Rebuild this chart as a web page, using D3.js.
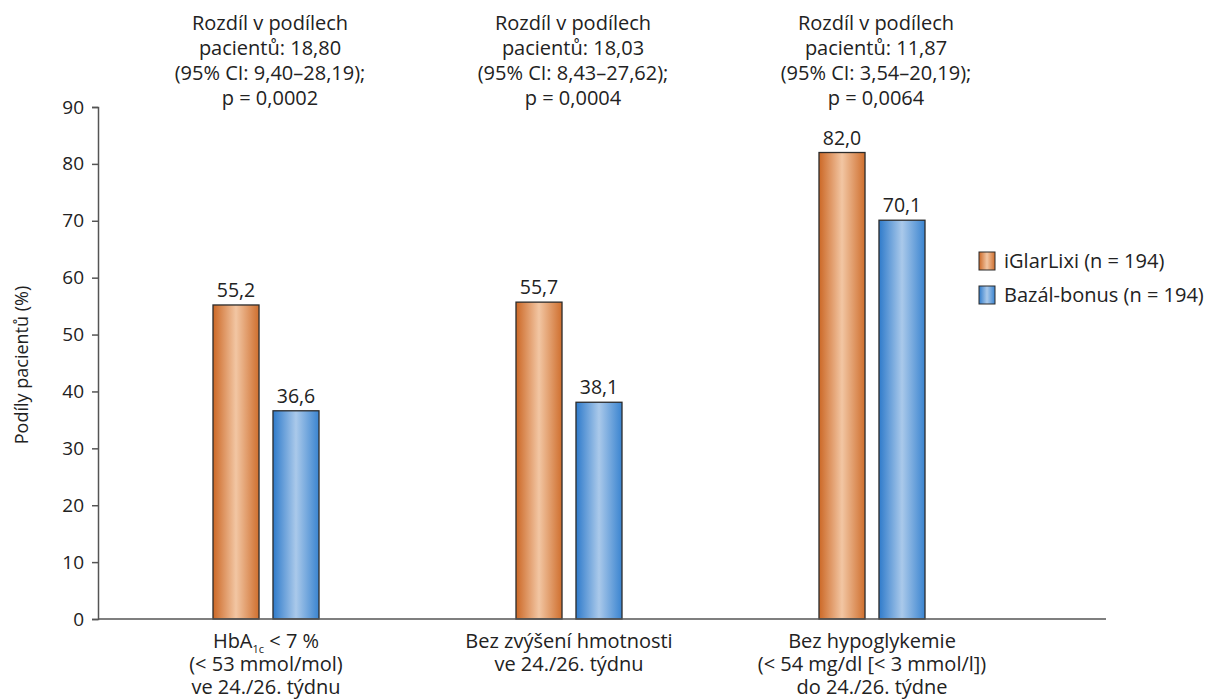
<!DOCTYPE html>
<html><head><meta charset="utf-8">
<script src="https://cdn.jsdelivr.net/npm/d3@7"></script>
<style>body{margin:0;background:#fff}text{font-family:"Open Sans",sans-serif;fill:#222}</style>
</head><body><svg id="c" width="1214" height="699"></svg>
<script>
const categories = ["g1","g2","g3"];
const seriesNames = ["iGlarLixi (n = 194)","Bazál-bonus (n = 194)"];
const iglarlixi = [55.2, 55.7, 82.0];
const bazalBonus = [36.6, 38.1, 70.1];
const valueLabels = [["55,2","36,6"],["55,7","38,1"],["82,0","70,1"]];
const yTicks = [0,10,20,30,40,50,60,70,80,90];
const annotations = [
 ["Rozdíl v podílech","pacientů: 18,80","(95% CI: 9,40–28,19);","p = 0,0002"],
 ["Rozdíl v podílech","pacientů: 18,03","(95% CI: 8,43–27,62);","p = 0,0004"],
 ["Rozdíl v podílech","pacientů: 11,87","(95% CI: 3,54–20,19);","p = 0,0064"]
];
const catLabels = [
 [null,"(< 53 mmol/mol)","ve 24./26. týdnu"],
 ["Bez zvýšení hmotnosti","ve 24./26. týdnu"],
 ["Bez hypoglykemie","(< 54 mg/dl [< 3 mmol/l])","do 24./26. týdne"]
];
const yTitle = "Podíly pacientů (%)";

const svg = d3.select("#c");
const x0 = 98, xEnd = 1106, yBase = 619, yTop = 107;
const y = d3.scaleLinear().domain([0,90]).range([yBase,yTop]);
const x = d3.scaleBand().domain(categories).range([114.5,1023.5]).paddingInner(0).paddingOuter(0);
const xs = d3.scaleBand().domain([0,1]).range([-53,53]).paddingInner(0.233).paddingOuter(0);

const defs = svg.append("defs");
function grad(id, edge, mid){
  const g = defs.append("linearGradient").attr("id",id).attr("x1","0").attr("x2","1").attr("y1","0").attr("y2","0");
  g.append("stop").attr("offset","0").attr("stop-color",edge[0]);
  g.append("stop").attr("offset","0.5").attr("stop-color",mid);
  g.append("stop").attr("offset","1").attr("stop-color",edge[1]);
}
grad("gO",["#cc6826","#cf6f2e"],"#f2c6a3");
grad("gB",["#2f7bcb","#3a84d0"],"#aac9ea");
const fills = ["url(#gO)","url(#gB)"];

// y axis
const ya = svg.append("g").attr("transform",`translate(${x0},0)`)
  .call(d3.axisLeft(y).tickValues(yTicks).tickSize(6).tickPadding(8).tickFormat(d3.format("d")));
ya.select(".domain").attr("stroke","#555").attr("stroke-width",1.5);
ya.selectAll(".tick line").attr("stroke","#555").attr("stroke-width",1.5);
ya.selectAll(".tick text").style("font-size","19px").style("font-family","'Open Sans',sans-serif").attr("fill","#222");

svg.append("text").attr("transform",`translate(28,${(yBase+yTop)/2+2}) rotate(-90)`)
  .attr("text-anchor","middle").style("font-size","18px").text(yTitle);

// bars
const series = [iglarlixi, bazalBonus];
categories.forEach((c,i)=>{
  const cx = x(c) + x.bandwidth()/2;
  series.forEach((s,j)=>{
    const bx = cx + xs(j);
    svg.append("rect").attr("x",bx).attr("y",y(s[i])).attr("width",xs.bandwidth())
      .attr("height",yBase - y(s[i])).attr("fill",fills[j]).attr("stroke","#2b2b2b").attr("stroke-width",1.3);
    svg.append("text").attr("x",bx+xs.bandwidth()/2).attr("y",y(s[i])-8).attr("text-anchor","middle")
      .style("font-size","19.5px").text(valueLabels[i][j]);
  });
  annotations[i].forEach((t,k)=>{
    svg.append("text").attr("x",cx+4).attr("y",30+k*25).attr("text-anchor","middle").style("font-size","20px").text(t);
  });
  catLabels[i].forEach((t,k)=>{
    const tx = svg.append("text").attr("x",cx).attr("y",648+k*23).attr("text-anchor","middle").style("font-size","20px");
    if(t===null){
      tx.append("tspan").text("HbA");
      tx.append("tspan").attr("dy",5).style("font-size","11px").text("1c");
      tx.append("tspan").attr("dy",-5).text(" < 7 %");
    } else tx.text(t);
  });
});

svg.append("line").attr("x1",x0).attr("x2",xEnd).attr("y1",yBase).attr("y2",yBase).attr("stroke","#555").attr("stroke-width",1.5);

// legend
const lg = svg.append("g").attr("transform","translate(979,252)");
seriesNames.forEach((n,j)=>{
  lg.append("rect").attr("x",0).attr("y",j*34).attr("width",16).attr("height",18).attr("fill",fills[j]).attr("stroke","#2b2b2b").attr("stroke-width",1);
  lg.append("text").attr("x",25).attr("y",j*34+16).style("font-size","20px").text(n);
});
</script></body></html>
